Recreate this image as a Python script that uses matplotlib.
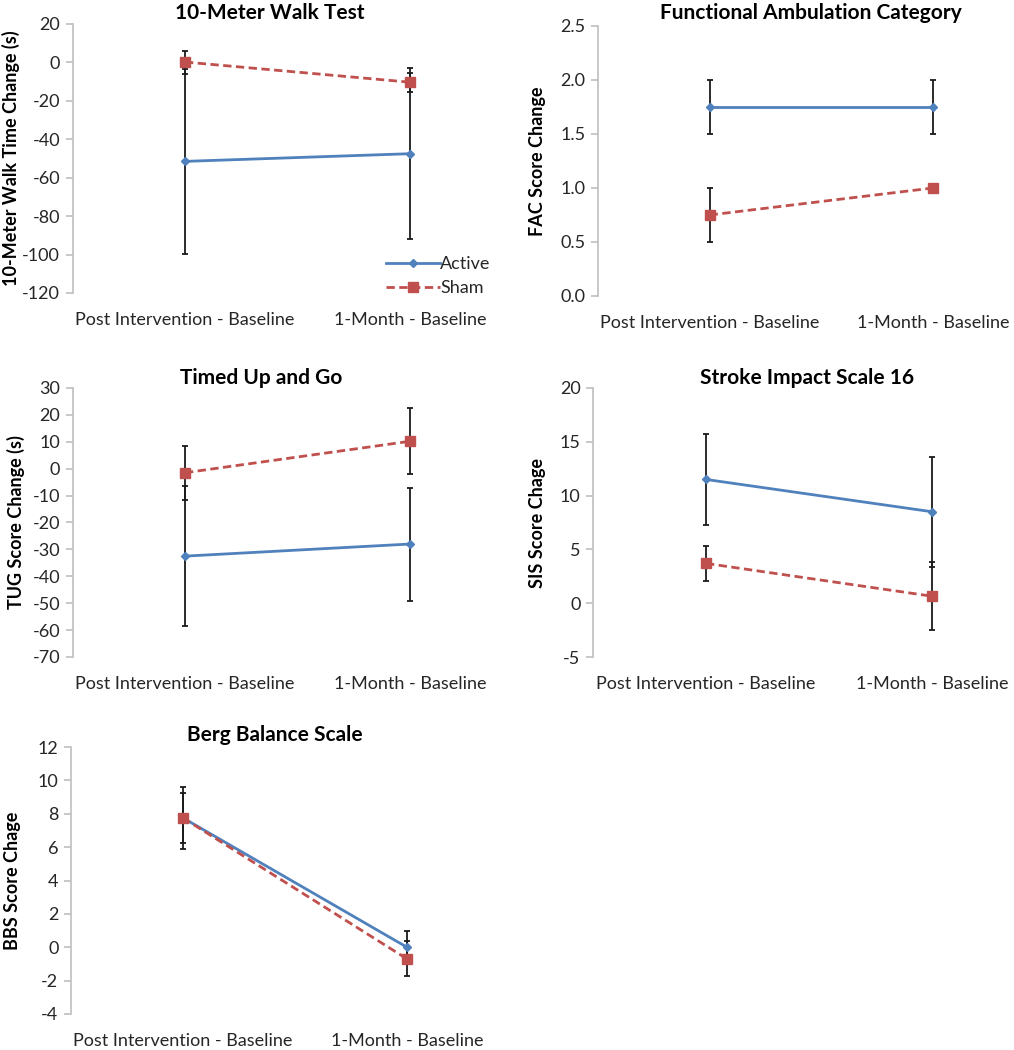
import matplotlib
matplotlib.use("Agg")
import matplotlib.pyplot as plt
from matplotlib.lines import Line2D
import numpy as np

plt.rcParams['font.family'] = ['Lato', 'DejaVu Sans']

categories = ["Post Intervention - Baseline", "1-Month - Baseline"]

# 10-Meter Walk Test
mwt_active = [-51.5, -47.5]
mwt_active_err = [48.0, 44.5]
mwt_sham = [0.2, -10.3]
mwt_sham_err = [6.0, 5.0]

# Functional Ambulation Category
fac_active = [1.75, 1.75]
fac_active_err = [0.25, 0.25]
fac_sham = [0.75, 1.0]
fac_sham_err = [0.25, 0.0]

# Timed Up and Go
tug_active = [-32.5, -28.0]
tug_active_err = [26.0, 21.0]
tug_sham = [-1.5, 10.2]
tug_sham_err = [10.0, 12.2]

# Stroke Impact Scale 16
sis_active = [11.5, 8.5]
sis_active_err = [4.2, 5.1]
sis_sham = [3.7, 0.65]
sis_sham_err = [1.65, 3.15]

# Berg Balance Scale
bbs_active = [7.75, 0.0]
bbs_active_err = [1.5, 1.0]
bbs_sham = [7.75, -0.7]
bbs_sham_err = [1.85, 1.05]

BLUE = "#4F81BD"
RED = "#C0504D"
TXT = "#262626"
GRID = "#BFBFBF"
DASH = (0, (3, 1.6))

W, H = 1014, 1050
fig = plt.figure(figsize=(W / 100, H / 100), dpi=100)


def add_ax(l, r, t, b):
    return fig.add_axes([l / W, 1 - b / H, (r - l) / W, (b - t) / H])


def panel(box, title, title_xy, ylabel, label_x, ylim, ystep, fmt, act, act_e, sham, sham_e):
    ax = add_ax(*box)
    x = list(range(len(categories)))
    ax.errorbar(x, act, yerr=act_e, color=BLUE, lw=2, marker='D', ms=4,
                ecolor='#1a1a1a', elinewidth=1.3, capsize=2.5, capthick=1.3, zorder=3)
    ax.errorbar(x, sham, yerr=sham_e, color=RED, lw=2, ls=DASH, marker='s', ms=7,
                ecolor='#1a1a1a', elinewidth=1.3, capsize=2.5, capthick=1.3, zorder=3)
    ax.set_xlim(-0.5, 1.5)
    ax.set_ylim(*ylim)
    ticks = np.arange(ylim[0], ylim[1] + ystep / 2, ystep)
    ax.set_yticks(ticks)
    ax.set_yticklabels([fmt.format(t) for t in ticks])
    ax.set_xticks(x)
    ax.set_xticklabels(categories)
    for s in ['top', 'right', 'bottom']:
        ax.spines[s].set_visible(False)
    ax.spines['left'].set_color(GRID)
    ax.spines['left'].set_linewidth(1.2)
    ax.tick_params(axis='y', direction='out', length=5, width=1.2, color=GRID,
                   labelsize=13, labelcolor=TXT, pad=4)
    ax.tick_params(axis='x', length=0, labelsize=13, labelcolor=TXT, pad=14)
    ax.set_ylabel(ylabel, fontsize=13, fontweight='bold', color='black')
    yc = 1 - (box[2] + box[3]) / 2 / H
    ax.yaxis.set_label_coords(label_x / W, yc, transform=fig.transFigure)
    ax.yaxis.label.set_va('center')
    ax.patch.set_alpha(0)
    fig.text(title_xy[0] / W, 1 - title_xy[1] / H, title, fontsize=15, fontweight='bold',
             ha='center', va='center', color='black')
    return ax


ax1 = panel((72.5, 522.5, 24, 293), "10-Meter Walk Test", (270, 13),
            "10-Meter Walk Time Change (s)", 11, (-120, 20), 20, "{:.0f}",
            mwt_active, mwt_active_err, mwt_sham, mwt_sham_err)
handles = [Line2D([], [], color=BLUE, lw=2, marker='D', ms=4),
           Line2D([], [], color=RED, lw=2, ls=DASH, marker='s', ms=7)]
ax1.legend(handles, ['Active', 'Sham'], loc='center left',
           bbox_to_anchor=(386 / W, 1 - 276 / H),
           bbox_transform=fig.transFigure, frameon=False, fontsize=13,
           handlelength=3.0, handletextpad=0.0, labelspacing=0.45, numpoints=1,
           borderpad=0, borderaxespad=0, labelcolor=TXT)

ax2 = panel((598, 1044.5, 26, 296), "Functional Ambulation Category", (811, 13),
            "FAC Score Change", 538, (0, 2.5), 0.5, "{:.1f}",
            fac_active, fac_active_err, fac_sham, fac_sham_err)

ax3 = panel((72.5, 522.5, 388, 657), "Timed Up and Go", (261, 378),
            "TUG Score Change (s)", 16, (-70, 30), 10, "{:.0f}",
            tug_active, tug_active_err, tug_sham, tug_sham_err)

ax4 = panel((593, 1045, 388, 657), "Stroke Impact Scale 16", (807, 378),
            "SIS Score Chage", 537, (-5, 20), 5, "{:.0f}",
            sis_active, sis_active_err, sis_sham, sis_sham_err)

ax5 = panel((71, 519, 747, 1014), "Berg Balance Scale", (275, 735),
            "BBS Score Chage", 13, (-4, 12), 2, "{:.0f}",
            bbs_active, bbs_active_err, bbs_sham, bbs_sham_err)

fig.savefig("out.png", dpi=100)
